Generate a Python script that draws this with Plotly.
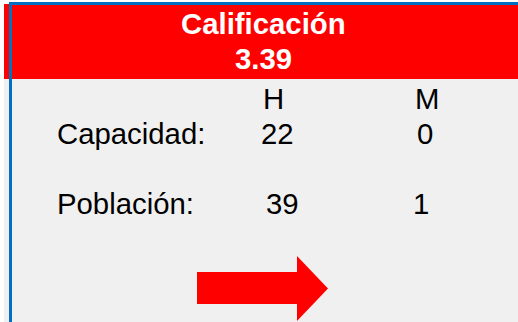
import plotly.graph_objects as go

# ---- data ----
title_text = "Calificación"
score = 3.39
col_headers = ["H", "M"]
row_labels = ["Capacidad:", "Población:"]
h_values = [22, 39]
m_values = [0, 1]

# ---- layout constants (pixel coordinates) ----
W, H = 518, 322
FONT = "Liberation Sans, Arial, sans-serif"
FS = 29.33
RED = "#ff0000"
BLUE = "#0070c0"
BODY = "#f0f0f0"

col_x = {"H": [273.5, 277.5, 282.5], "M": [427, 425, 421]}
header_y = 98
row_y = [133.5, 203.5]
label_x = [54.5, 55]

fig = go.Figure()

shapes = [
    dict(type="rect", x0=4, x1=W, y0=79, y1=H, fillcolor=BODY, line_width=0, layer="below"),
    dict(type="rect", x0=4, x1=W, y0=4, y1=79, fillcolor=RED, line_width=0, layer="below"),
    dict(type="rect", x0=9, x1=W, y0=2, y1=5, fillcolor=BLUE, line_width=0, layer="below"),
    dict(type="rect", x0=9, x1=12, y0=2, y1=H, fillcolor=BLUE, line_width=0, layer="below"),
    dict(type="path", path="M197,272 L297,272 L297,256 L328,288.5 L297,321 L297,304 L197,304 Z",
         fillcolor=RED, line_width=0),
]

ann = []
ann.append(dict(x=263, y=23.5, text=f"<b>{title_text}</b>", font=dict(family=FONT, size=FS, color="white")))
ann.append(dict(x=263, y=58.5, text=f"<b>{score:.2f}</b>", font=dict(family=FONT, size=FS, color="white")))
ann.append(dict(x=col_x["H"][0], y=header_y, text=col_headers[0], font=dict(family=FONT, size=FS, color="black")))
ann.append(dict(x=col_x["M"][0], y=header_y, text=col_headers[1], font=dict(family=FONT, size=FS, color="black")))
for i, lab in enumerate(row_labels):
    ann.append(dict(x=label_x[i], y=row_y[i], text=lab, xanchor="left",
                    font=dict(family=FONT, size=FS, color="black")))
    ann.append(dict(x=col_x["H"][i + 1], y=row_y[i], text=str(h_values[i]),
                    font=dict(family=FONT, size=FS, color="black")))
    ann.append(dict(x=col_x["M"][i + 1], y=row_y[i], text=str(m_values[i]),
                    font=dict(family=FONT, size=FS, color="black")))
for a in ann:
    a.setdefault("xanchor", "center")
    a.update(xref="x", yref="y", yanchor="middle", showarrow=False)

fig.update_layout(
    width=W, height=H,
    margin=dict(l=0, r=0, t=0, b=0),
    paper_bgcolor="white", plot_bgcolor="white",
    xaxis=dict(range=[0, W], visible=False, fixedrange=True),
    yaxis=dict(range=[H, 0], visible=False, fixedrange=True),
    shapes=shapes, annotations=ann, showlegend=False,
)

fig.write_html(
    "out.html",
    config={"displayModeBar": False},
    post_script="document.body.style.margin='0px';document.body.style.overflow='hidden';",
)
